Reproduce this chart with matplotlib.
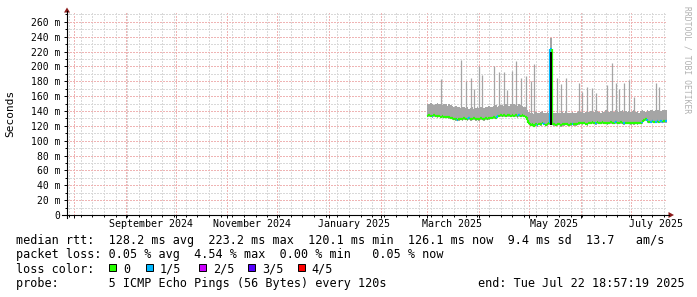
import matplotlib
matplotlib.use('Agg')
import matplotlib.pyplot as plt
import matplotlib.dates as mdates
from matplotlib.collections import LineCollection
from matplotlib.patches import Rectangle, Polygon
import numpy as np
import pandas as pd

# ---- data (ms), one value per day, Mar 1 .. Jul 22 2025 ----
first_day = '2025-03-01'
median_rtt = [
    # March
    133.5, 134, 133.5, 133, 134, 133.5, 133, 133.5, 132.5, 133, 132.5, 132, 132.5, 131.5, 131, 130,
    129.5, 129, 128, 129, 129.5, 129, 130, 129.5, 129, 130, 129, 129.5, 130, 129, 129.5,
    # April
    129, 130, 129.5, 129, 130, 129.5, 130, 131, 131, 131.5, 131, 133, 133.5, 134, 133.5,
    134, 133.5, 134, 134, 133.5, 134, 133.5, 134, 133, 134, 133.5, 134, 133.5, 132, 128,
    # May
    124, 121.5, 122, 120.1, 122.5, 121, 123, 122, 124, 123, 121.5, 122, 123.5, 223.2, 123, 122,
    121.5, 122.5, 123, 121, 122, 122.5, 123, 122, 121.5, 122, 123, 122.5, 122, 123, 123.5,
    # June
    124, 123.5, 124, 123, 122.5, 124, 124.5, 125, 124, 123.5, 125, 124.5, 124, 125, 124.5,
    124, 123.5, 124, 125, 124.5, 124, 125, 124, 124.5, 125, 124, 123.5, 124, 124.5, 124,
    # July
    123.5, 124, 123.5, 124, 123.5, 124, 124.5, 125, 128.5, 129, 126, 125.5, 125.5, 126, 125.5,
    125.5, 126, 125.5, 126, 125.5, 126, 126.1,
]
smoke_top = [
    150, 149, 151, 150, 148, 150, 151, 149, 150, 148, 149, 150, 147, 149, 148, 147,
    146, 147, 145, 146, 144, 145, 146, 144, 145, 143, 144, 145, 143, 144, 145,
    144, 145, 146, 144, 145, 146, 147, 145, 146, 147, 148, 146, 147, 148, 148,
    147, 149, 148, 147, 149, 148, 150, 148, 147, 149, 148, 147, 146, 145, 142,
    139, 137, 138, 136, 139, 138, 137, 139, 140, 138, 137, 139, 138, 238, 140, 138,
    137, 139, 138, 137, 139, 138, 140, 138, 137, 138, 139, 137, 138, 139, 140,
    139, 140, 138, 139, 141, 139, 140, 138, 139, 141, 140, 139, 138, 140, 139,
    141, 140, 139, 140, 138, 139, 141, 140, 139, 140, 141, 139, 140, 139, 140,
    139, 140, 141, 139, 140, 138, 140, 141, 140, 139, 141, 140, 142, 141, 140,
    141, 142, 141, 140, 141, 142, 141,
]
# days with 1/5 loss, everything else 0
loss_1of5_days = ['2025-03-04', '2025-03-19', '2025-03-26', '2025-04-12', '2025-04-25',
                  '2025-05-06', '2025-05-10', '2025-05-14', '2025-05-27', '2025-06-10',
                  '2025-06-22', '2025-06-27', '2025-07-08', '2025-07-11', '2025-07-13',
                  '2025-07-14', '2025-07-16', '2025-07-17', '2025-07-19', '2025-07-20',
                  '2025-07-22']
# max-ping spikes
spike_dates = ['2025-03-09', '2025-03-21', '2025-03-24', '2025-03-27', '2025-03-29', '2025-04-01',
               '2025-04-03', '2025-04-10', '2025-04-13', '2025-04-16', '2025-04-18', '2025-04-21',
               '2025-04-23', '2025-04-26', '2025-04-29', '2025-05-02', '2025-05-04', '2025-05-18',
               '2025-05-20', '2025-05-23', '2025-05-31', '2025-06-02', '2025-06-05', '2025-06-08',
               '2025-06-10', '2025-06-17', '2025-06-20', '2025-06-22', '2025-06-24', '2025-06-27',
               '2025-06-30', '2025-07-03', '2025-07-16', '2025-07-18']
spike_max = [183, 209, 181, 185, 170, 200, 189, 201, 192, 192, 168, 194, 207, 185, 187, 180, 204,
             184, 176, 185, 178, 165, 173, 171, 164, 175, 205, 178, 169, 178, 182, 159, 178, 172]
# dense smoke (inner pings)
dark_days = ['2025-05-14']
dark_lo = [121]
dark_hi = [219]

loss_labels = ['0', '1/5', '2/5', '3/5', '4/5']
loss_colors = ['#26ff00', '#00b8ff', '#cc00ff', '#5500ff', '#ff0000']

y_ticks = list(range(0, 261, 20))
month_labels = ['2024-09', '2024-11', '2025-01', '2025-03', '2025-05', '2025-07']

legend_lines = [
    'median rtt:  128.2 ms avg  223.2 ms max  120.1 ms min  126.1 ms now  9.4 ms sd  13.7   am/s',
    'packet loss: 0.05 % avg  4.54 % max  0.00 % min   0.05 % now',
    'loss color:',
    'probe:       5 ICMP Echo Pings (56 Bytes) every 120s',
]
end_text = 'end: Tue Jul 22 18:57:19 2025'

# ---- figure ----
W, H = 697, 297
MONO = 'DejaVu Sans Mono'
LEG = 8.5
fig = plt.figure(figsize=(W / 100, H / 100), dpi=100)
fig.patch.set_facecolor('white')


def px(x, y):
    return x / W, 1 - y / H


ax = fig.add_axes([67 / W, (H - 215) / H, 600 / W, 202 / H])
ax.set_facecolor('white')

end = pd.Timestamp('2025-07-22 18:57:19')
start = end - pd.Timedelta(days=360)
ax.set_xlim(mdates.date2num(start), mdates.date2num(end))
ax.set_ylim(0, 272)

days = pd.date_range(first_day, periods=len(median_rtt), freq='D')
t = mdates.date2num(days)
med = np.array(median_rtt)
top = np.array(smoke_top)
loss = np.isin(days.strftime('%Y-%m-%d'), loss_1of5_days).astype(int)

# grid
month_starts = pd.date_range('2024-08-01', '2025-07-01', freq='MS')
weeks = pd.date_range(start.normalize(), end, freq='W-MON')
ax.set_xticks(mdates.date2num(month_starts))
ax.set_xticks(mdates.date2num(weeks), minor=True)
ax.set_xticklabels([])
ax.set_yticks(y_ticks)
ax.set_yticklabels(['0'] + [f'{v} m' for v in y_ticks[1:]], fontsize=7, family=MONO)
ax.set_yticks(range(10, 272, 20), minor=True)
ax.grid(which='minor', color='#d9d9d9', lw=0.72, ls=(0, (2, 2)), antialiased=False)
ax.grid(which='major', color='#efb4b4', lw=0.72, ls=(0, (2, 2)), antialiased=False)
ax.set_axisbelow(True)
ax.tick_params(which='major', length=2.5, width=0.7, color='black', pad=2.2)
ax.tick_params(which='minor', length=1.5, width=0.7, color='black')
for s in ax.spines.values():
    s.set_visible(False)

# smoke
edges = np.append(t - 0.5, t[-1] + 0.5)
ax.fill_between(edges, np.append(med - 2, med[-1] - 2), np.append(top, top[-1]),
                step='post', color='#a5a5a5', lw=0, zorder=2)
sd = mdates.date2num(pd.to_datetime(spike_dates))
ax.vlines(sd, 135, spike_max, color='#a5a5a5', lw=0.9, zorder=2)

# median line, coloured by loss
segs, cols = [], []
for i in range(len(t)):
    segs.append([(t[i] - 0.5, med[i]), (t[i] + 0.5, med[i])])
    cols.append(loss_colors[loss[i]])
    if i + 1 < len(t):
        segs.append([(t[i] + 0.5, med[i]), (t[i] + 0.5, med[i + 1])])
        cols.append(loss_colors[loss[i + 1]])
ax.add_collection(LineCollection(segs, colors=cols, linewidths=1.6, zorder=4, capstyle='butt'))

dd = mdates.date2num(pd.to_datetime(dark_days))
for d, lo, hi in zip(dd, dark_lo, dark_hi):
    ax.fill_between([d - 0.7, d + 0.7], lo, hi, color='black', lw=0, zorder=5)

# axes lines and arrows
fig.add_artist(plt.Line2D([67 / W, 67 / W], [px(0, 218)[1], px(0, 11)[1]], color='black', lw=0.8))
fig.add_artist(plt.Line2D([62 / W, 669 / W], [px(0, 215)[1], px(0, 215)[1]], color='black', lw=0.8))
fig.add_artist(Polygon([px(67, 7.5), px(64, 12.5), px(70, 12.5)], closed=True,
                       transform=fig.transFigure, fc='#8b1a1a', ec='none'))
fig.add_artist(Polygon([px(674, 215), px(668.5, 212), px(668.5, 218)], closed=True,
                       transform=fig.transFigure, fc='#8b1a1a', ec='none'))

# month labels centred mid-month
for m in month_labels:
    mid = mdates.date2num(pd.Timestamp(m + '-01') + pd.Timedelta(days=15))
    ax.text(mid, -12 / 202, pd.Timestamp(m + '-01').strftime('%B %Y'),
            transform=ax.get_xaxis_transform(), ha='center', va='baseline', fontsize=7.2, family=MONO)

fig.text(*px(10.5, 113), 'Seconds', rotation=90, ha='center', va='center', fontsize=8, family=MONO)
fig.text(*px(687, 60), 'RRDTOOL / TOBI OETIKER', rotation=270, ha='center', va='center',
         fontsize=5.8, family=MONO, color='#b0b0b0')

# legend
baselines = [244, 258.3, 272.6, 287]
for line, yb in zip(legend_lines, baselines):
    fig.text(*px(16, yb), line, ha='left', va='baseline', fontsize=LEG, family=MONO)
fig.text(*px(478, baselines[3]), end_text, ha='left', va='baseline', fontsize=LEG, family=MONO)
box_x = [109, 145.7, 199, 247.7, 297.7]
for bx, lab, c in zip(box_x, loss_labels, loss_colors):
    fig.add_artist(Rectangle(px(bx, 271.3), 7 / W, 7 / H, transform=fig.transFigure,
                             fc=c, ec='black', lw=0.7))
    fig.text(*px(bx + 14, baselines[2]), lab, ha='left', va='baseline', fontsize=LEG, family=MONO)

fig.savefig('out.png', dpi=100, facecolor='white')
